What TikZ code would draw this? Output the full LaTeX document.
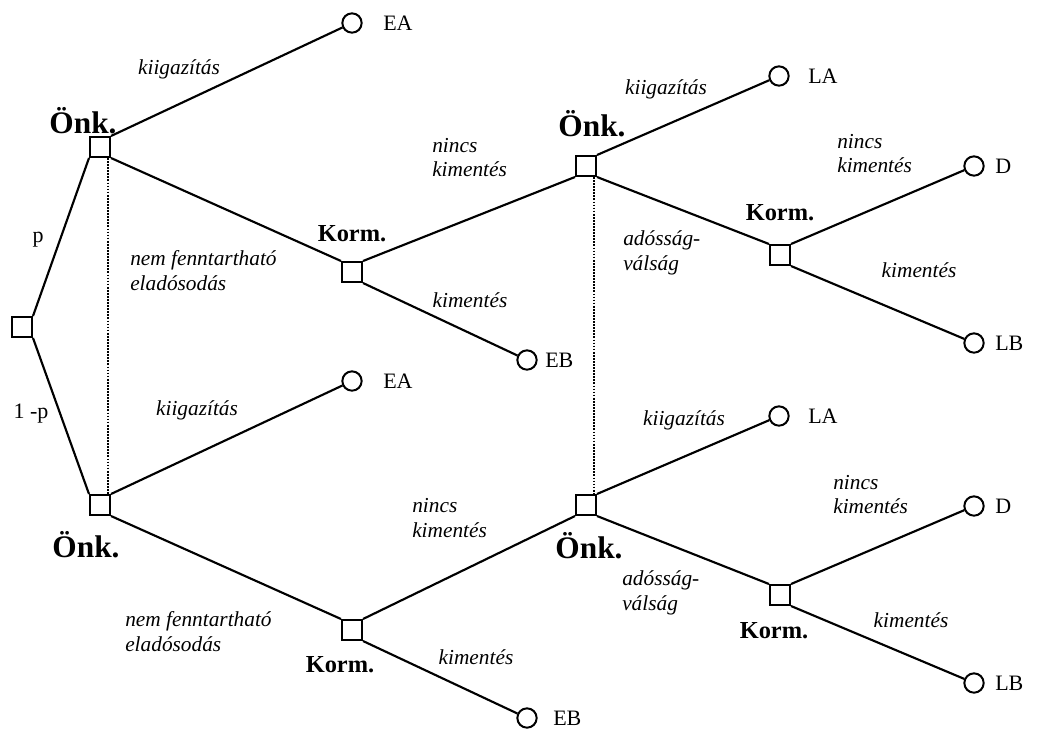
\documentclass[tikz,border=0pt]{standalone}
\usepackage{fontspec}
\setmainfont{Liberation Serif}
\begin{document}
\begin{tikzpicture}[x=0.75pt,y=-0.75pt,
  sq/.style={draw,line width=1.5pt,fill=white,minimum size=15pt,inner sep=0pt},
  term/.style={draw,circle,line width=1.5pt,fill=white,minimum size=14.5pt,inner sep=0pt},
  edge/.style={line width=1.6pt},
  info/.style={densely dotted,line width=1.3pt},
  pl/.style={font=\fontsize{23.5}{25}\selectfont\bfseries,inner sep=0pt},
  gl/.style={font=\fontsize{18.3}{20}\selectfont\bfseries,inner sep=0pt},
  lab/.style={font=\fontsize{16}{18.5}\selectfont\itshape,align=left,inner sep=0pt},
  tl/.style={font=\fontsize{16.5}{18}\selectfont,anchor=west,inner sep=0pt},
]
\useasboundingbox (0,0) rectangle (1038,729);
% decision nodes
\node[sq] (root) at (22,327) {};
\node[sq] (o1) at (100,147) {};
\node[sq] (o2) at (100,505) {};
\node[sq] (k1) at (352,272) {};
\node[sq] (k2) at (352,630) {};
\node[sq] (m1) at (586,166) {};
\node[sq] (m2) at (586,505) {};
\node[sq] (r1) at (780,255) {};
\node[sq] (r2) at (780,595) {};
% terminal nodes
\node[term] (ea1) at (352,23) {};
\node[term] (ea2) at (352,381) {};
\node[term] (eb1) at (527,360) {};
\node[term] (eb2) at (527,718) {};
\node[term] (la1) at (779,76) {};
\node[term] (la2) at (779,416) {};
\node[term] (d1) at (974,166) {};
\node[term] (lb1) at (974,343) {};
\node[term] (d2) at (974,506) {};
\node[term] (lb2) at (974,683) {};
% edges
\draw[edge] (root.north east) -- (o1.south west);
\draw[edge] (root.south east) -- (o2.north west);
\draw[edge] (o1.north east) -- (ea1);
\draw[edge] (o1.south east) -- (k1.north west);
\draw[edge] (k1.north east) -- (m1.south west);
\draw[edge] (k1.south east) -- (eb1);
\draw[edge] (m1.north east) -- (la1);
\draw[edge] (m1.south east) -- (r1.north west);
\draw[edge] (r1.north east) -- (d1);
\draw[edge] (r1.south east) -- (lb1);
\draw[edge] (o2.north east) -- (ea2);
\draw[edge] (o2.south east) -- (k2.north west);
\draw[edge] (k2.north east) -- (m2.south west);
\draw[edge] (k2.south east) -- (eb2);
\draw[edge] (m2.north east) -- (la2);
\draw[edge] (m2.south east) -- (r2.north west);
\draw[edge] (r2.north east) -- (d2);
\draw[edge] (r2.south east) -- (lb2);
% information sets
\draw[info] ([xshift=-2pt]o1.south east) -- ([xshift=-2pt]o2.north east);
\draw[info] ([xshift=-2pt]m1.south east) -- ([xshift=-2pt]m2.north east);
% player labels
\node[pl] (lo1) at (83,121) {Önk.};
\node[pl] (lo2) at (86,545) {Önk.};
\node[pl] (lm1) at (592,124) {Önk.};
\node[pl] (lm2) at (589,546) {Önk.};
\node[gl] (lk1) at (352,234) {Korm.};
\node[gl] (lk2) at (340,665) {Korm.};
\node[gl] (lr1) at (780,213) {Korm.};
\node[gl] (lr2) at (774,631) {Korm.};
% probabilities
\node[font=\fontsize{16.5}{18}\selectfont,inner sep=0pt] (pp) at (38,240) {p};
\node[font=\fontsize{16.5}{18}\selectfont,inner sep=0pt] (pq) at (31,414) {1 -p};
% terminal labels
\node[tl] (tea1) at (383,23) {EA};
\node[tl] (tea2) at (383,381) {EA};
\node[tl] (teb1) at (545,360) {EB};
\node[tl] (teb2) at (553,718) {EB};
\node[tl] (tla1) at (808,76) {LA};
\node[tl] (tla2) at (808,416) {LA};
\node[tl] (td1) at (995,166) {D};
\node[tl] (tlb1) at (995,343) {LB};
\node[tl] (td2) at (995,506) {D};
\node[tl] (tlb2) at (995,683) {LB};
% action labels
\node[lab] (a1) at (179,69) {kiigazítás};
\node[lab] (a2) at (197,410) {kiigazítás};
\node[lab] (a3) at (666,89) {kiigazítás};
\node[lab] (a4) at (684,420) {kiigazítás};
\node[lab,anchor=west] (a5) at (130,270.5) {nem fenntartható\\eladósodás};
\node[lab,anchor=west] (a6) at (125,631.5) {nem fenntartható\\eladósodás};
\node[lab,anchor=west] (a7) at (432,157.5) {nincs\\kimentés};
\node[lab,anchor=west] (a8) at (412,518) {nincs\\kimentés};
\node[lab,anchor=west] (a9) at (837,153.5) {nincs\\kimentés};
\node[lab,anchor=west] (a10) at (833,494.5) {nincs\\kimentés};
\node[lab,anchor=west] (a11) at (623,253) {adósság-\\válság};
\node[lab,anchor=west] (a12) at (622,593) {adósság-\\válság};
\node[lab] (a13) at (470,300) {kimentés};
\node[lab] (a14) at (476,657) {kimentés};
\node[lab] (a15) at (919,270) {kimentés};
\node[lab] (a16) at (911,620) {kimentés};
\end{tikzpicture}
\end{document}
